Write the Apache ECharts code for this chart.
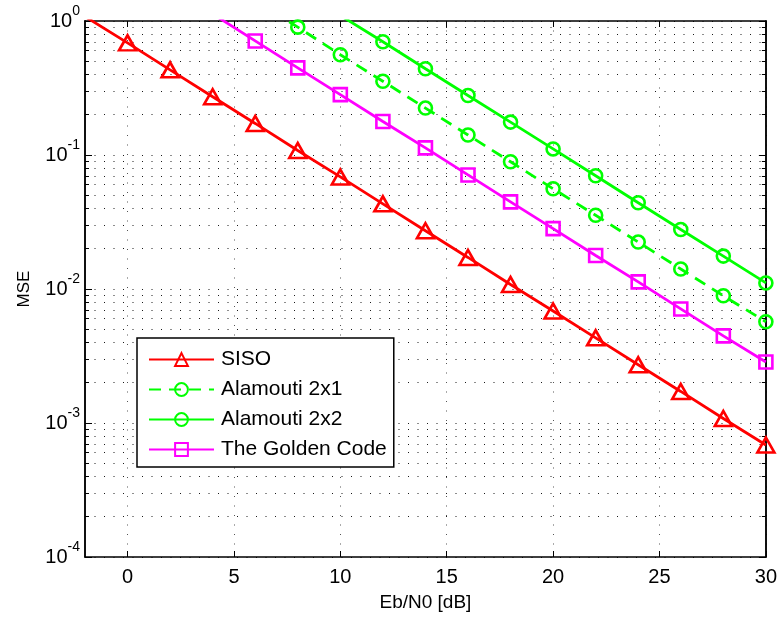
<!DOCTYPE html>
<html>
<head>
<meta charset="utf-8">
<title>MSE vs Eb/N0</title>
<script src="https://cdn.jsdelivr.net/npm/echarts@6/dist/echarts.min.js"></script>
<style>
  html, body { margin: 0; padding: 0; background: #ffffff; }
  #chart { width: 780px; height: 617px; }
</style>
</head>
<body>
<div id="chart"></div>
<script>
// Eb/N0 sample points in dB
const snrDb = [-2, 0, 2, 4, 6, 8, 10, 12, 14, 16, 18, 20, 22, 24, 26, 28, 30];

// Mean squared error per scheme (null where the curve has no sample)
const siso = [1.08, 0.687, 0.432, 0.272, 0.172, 0.108, 0.0686, 0.0432, 0.0272, 0.0172, 0.0108, 0.00685, 0.00432, 0.00272, 0.00172, 0.00108, 0.000685];
const alamouti2x1 = [null, null, null, null, 1.42, 0.90, 0.56, 0.355, 0.224, 0.141, 0.089, 0.056, 0.0355, 0.0224, 0.0141, 0.0089, 0.0057];
const alamouti2x2 = [null, null, null, null, null, null, 1.1, 0.70, 0.44, 0.278, 0.176, 0.111, 0.070, 0.044, 0.0278, 0.0176, 0.0111];
const goldenCode = [null, null, null, 1.13, 0.71, 0.447, 0.282, 0.178, 0.113, 0.071, 0.0447, 0.0282, 0.0178, 0.0113, 0.0071, 0.00447, 0.00285];

const seriesNames = ['SISO', 'Alamouti 2x1', 'Alamouti 2x2', 'The Golden Code'];

// Axis ticks
const xTicks = [0, 5, 10, 15, 20, 25, 30];
const yMajorTicks = [1e-4, 1e-3, 1e-2, 1e-1, 1];
const yMinorTicks = [];
for (let d = -4; d < 0; d++) {
  for (let m = 2; m <= 9; m++) {
    yMinorTicks.push(+(m * Math.pow(10, d)).toPrecision(3));
  }
}

const FONT = '"Liberation Sans", Arial, Helvetica, sans-serif';

function pairs(values) {
  return snrDb.map((x, i) => [x, values[i]]);
}

const dotted = { color: '#1a1a1a', width: 1, type: [1, 8.5] };

const chart = echarts.init(document.getElementById('chart'), null, { renderer: 'canvas' });

function lineSeries(name, values, color, symbol, size, dashed) {
  return {
    name: name,
    type: 'line',
    data: pairs(values),
    xAxisIndex: 0,
    yAxisIndex: 0,
    clip: true,
    symbol: symbol,
    symbolSize: size,
    showSymbol: true,
    connectNulls: false,
    lineStyle: { color: color, width: 2.8, type: dashed ? [12, 8] : 'solid' },
    itemStyle: { color: 'rgba(0,0,0,0)', borderColor: color, borderWidth: 2.6 },
    emphasis: { disabled: true },
    z: 5
  };
}

function logAxis(pos, ticks, tickLen, extra) {
  return Object.assign({
    type: 'log',
    logBase: 10,
    position: pos,
    min: 1e-4,
    max: 1,
    axisLine: { show: true, onZero: false, lineStyle: { color: '#000', width: 1.5 } },
    axisTick: { show: true, inside: true, length: tickLen, customValues: ticks, lineStyle: { color: '#000', width: 1 } },
    axisLabel: { show: false },
    splitLine: { show: false },
    minorTick: { show: false },
    minorSplitLine: { show: false }
  }, extra || {});
}

const option = {
  animation: false,
  backgroundColor: '#ffffff',
  textStyle: { fontFamily: FONT },
  grid: { left: 85, right: 11, top: 21, bottom: 58, containLabel: false },
  legend: {
    data: seriesNames,
    orient: 'vertical',
    left: 137,
    top: 338,
    itemWidth: 65,
    itemHeight: 16,
    itemGap: 9,
    padding: [11, 7, 7, 11],
    backgroundColor: '#ffffff',
    borderColor: '#000',
    borderWidth: 1.5,
    borderRadius: 0,
    selectedMode: false,
    textStyle: { fontFamily: FONT, fontSize: 21, color: '#000', padding: [0, 0, 0, 2] }
  },
  xAxis: [
    {
      type: 'value',
      position: 'bottom',
      min: -2,
      max: 30,
      name: 'Eb/N0 [dB]',
      nameLocation: 'middle',
      nameGap: 36,
      nameTextStyle: { fontFamily: FONT, fontSize: 19, color: '#000' },
      axisLine: { show: true, onZero: false, lineStyle: { color: '#000', width: 1.5 } },
      axisTick: { show: true, inside: true, length: 6, customValues: xTicks, lineStyle: { color: '#000', width: 1 } },
      axisLabel: { show: true, customValues: xTicks, margin: 10, fontFamily: FONT, fontSize: 20, color: '#000' },
      splitLine: { show: true, lineStyle: { color: '#555', width: 1, type: [1, 8.5] } }
    },
    {
      type: 'value',
      position: 'top',
      min: -2,
      max: 30,
      axisLine: { show: true, onZero: false, lineStyle: { color: '#000', width: 1.5 } },
      axisTick: { show: true, inside: true, length: 6, customValues: xTicks, lineStyle: { color: '#000', width: 1 } },
      axisLabel: { show: false },
      splitLine: { show: false }
    }
  ],
  yAxis: [
    logAxis('left', yMajorTicks, 7, {
      name: 'MSE',
      nameLocation: 'middle',
      nameGap: 52,
      nameRotate: 90,
      nameTextStyle: { fontFamily: FONT, fontSize: 17, color: '#000' },
      axisLabel: {
        show: true,
        customValues: yMajorTicks,
        margin: 5,
        formatter: function (v) {
          const e = Math.round(Math.log10(v));
          return '{b|10}{s|' + e + '}';
        },
        rich: {
          b: { fontFamily: FONT, fontSize: 20, color: '#000', lineHeight: 20, verticalAlign: 'middle' },
          s: { fontFamily: FONT, fontSize: 14, color: '#000', lineHeight: 14, verticalAlign: 'middle', padding: [0, 0, 19, 0] }
        }
      },
      splitLine: { show: true, lineStyle: dotted }
    }),
    logAxis('left', yMinorTicks, 4, { splitLine: { show: true, lineStyle: dotted } }),
    logAxis('right', yMajorTicks, 7),
    logAxis('right', yMinorTicks, 4)
  ],
  series: [
    lineSeries(seriesNames[0], siso, '#ff0000', 'triangle', [17, 15], false),
    lineSeries(seriesNames[1], alamouti2x1, '#00ff00', 'circle', 13, true),
    lineSeries(seriesNames[2], alamouti2x2, '#00ff00', 'circle', 13, false),
    lineSeries(seriesNames[3], goldenCode, '#ff00ff', 'rect', 13, false)
  ]
};

chart.setOption(option);
</script>
</body>
</html>
